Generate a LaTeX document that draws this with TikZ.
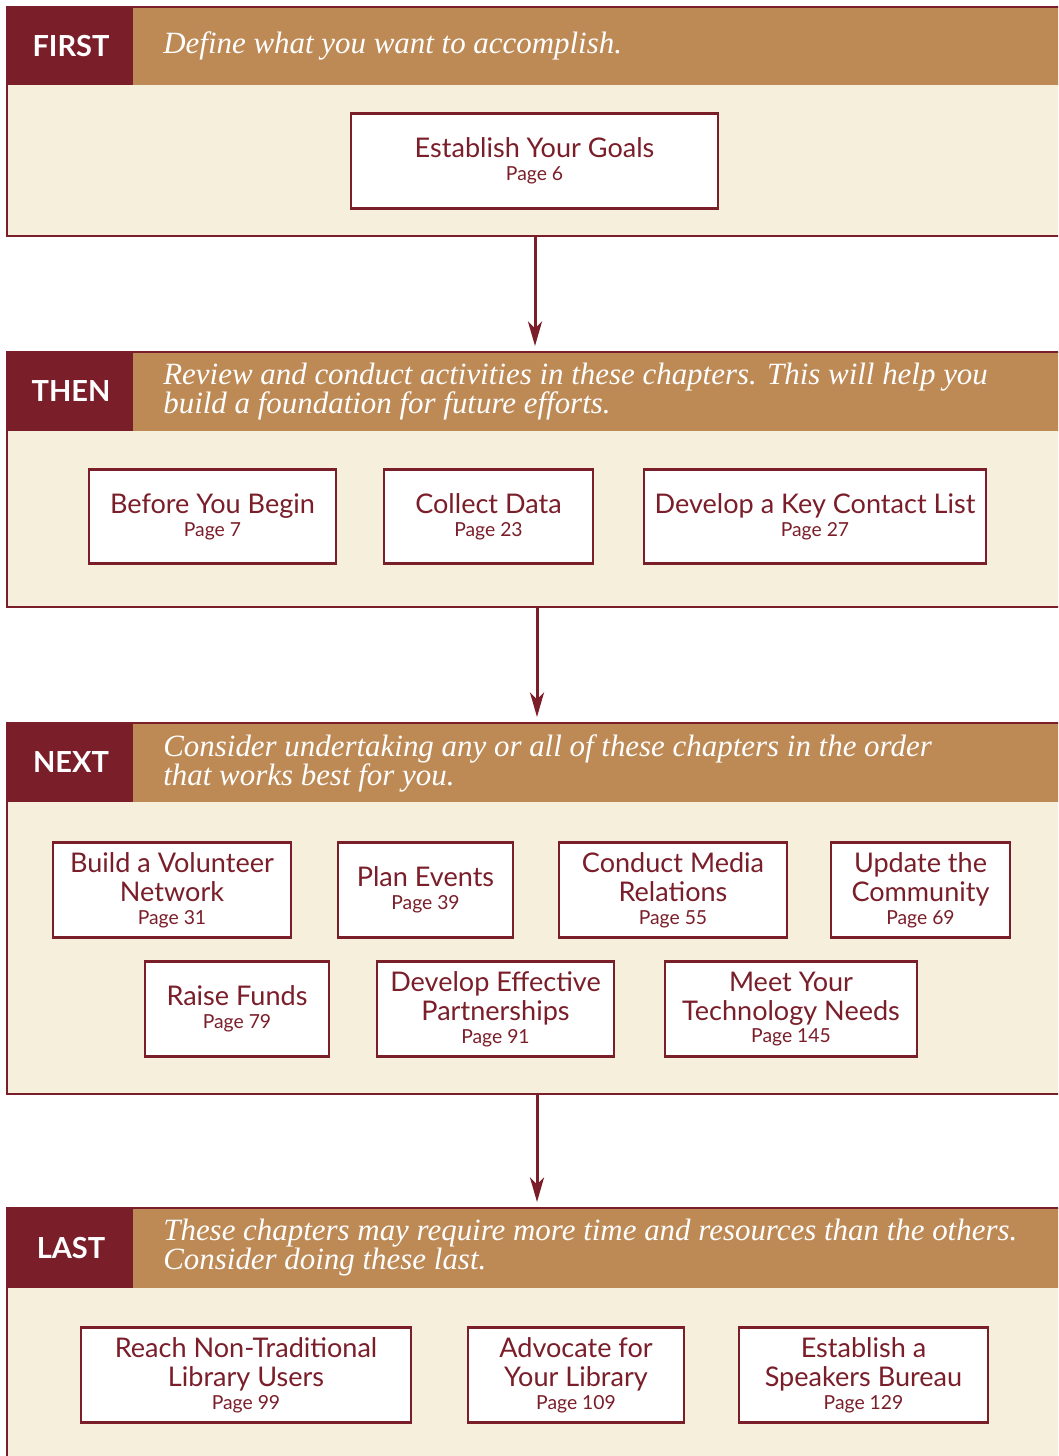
\documentclass[tikz,border=0pt]{standalone}
\usepackage{fontspec}
\setsansfont{Lato}
\newfontfamily\headfont{Liberation Serif}
\usetikzlibrary{arrows.meta}

\definecolor{wine}{HTML}{7A1E2A}
\definecolor{ochre}{HTML}{BD8A56}
\definecolor{cream}{HTML}{F6EFDC}

\newcommand{\pg}[1]{\\[-3.5pt]{\fontsize{11}{12}\selectfont Page #1}}

\begin{document}
\begin{tikzpicture}[x=0.02cm, y=-0.02cm,
    chapter/.style={draw=wine, line width=1.6pt, fill=white, text=wine,
      minimum height=1.89cm, inner sep=0pt, align=center,
      font=\sffamily\fontsize{15.4}{16.5}\selectfont},
    stage/.style={text=white, font=\sffamily\bfseries\fontsize{16.5}{18}\selectfont},
    intro/.style={anchor=west, text=white, align=left, inner sep=0pt,
      font=\headfont\itshape\fontsize{17.6}{16.5}\selectfont},
    flow/.style={draw=wine, line width=1.7pt, -{Stealth[length=14pt, width=8pt, inset=4pt]}}]
  \useasboundingbox (0,0) rectangle (1058,1456);
  \clip (0,0) rectangle (1058,1456);

  % the four panels
  \foreach \tag/\lbl/\top/\mid/\bot in {first/FIRST/7/85/236, then/THEN/352/431/607,
      next/NEXT/723/802/1094, last/LAST/1208/1288/1480}{
    \fill[cream] (7,\top) rectangle (1070,\bot);
    \fill[wine] (7,\top) rectangle (133,\mid);
    \fill[ochre] (133,\top) rectangle (1070,\mid);
    \draw[wine, line width=1.6pt] (7,\top) rectangle (1070,\bot);
    \node[stage] (\tag) at (71,{(\top+\mid)/2}) {\lbl};
  }

  \node[intro] (first-text) at (163,46) {Define what you want to accomplish.};
  \node[intro] (then-text) at (163,392) {Review and conduct activities in these chapters. This will help you\\build a foundation for future efforts.};
  \node[intro] (next-text) at (163,763) {Consider undertaking any or all of these chapters in the order\\that works best for you.};
  \node[intro] (last-text) at (163,1248) {These chapters may require more time and resources than the others.\\Consider doing these last.};

  % chapters
  \node[chapter, minimum width=7.34cm] (goals) at (534.5,161) {Establish Your Goals\pg{6}};

  \node[chapter, minimum width=4.94cm] (begin) at (212.5,516.5) {Before You Begin\pg{7}};
  \node[chapter, minimum width=4.18cm] (data) at (488.5,516.5) {Collect Data\pg{23}};
  \node[chapter, minimum width=6.84cm] (contact) at (815,516.5) {Develop a Key Contact List\pg{27}};

  \node[chapter, minimum width=4.76cm] (volunteer) at (172,890) {Build a Volunteer\\Network\pg{31}};
  \node[chapter, minimum width=3.5cm] (events) at (425.5,890) {Plan Events\pg{39}};
  \node[chapter, minimum width=4.56cm] (media) at (673,890) {Conduct Media\\Relations\pg{55}};
  \node[chapter, minimum width=3.58cm] (update) at (920.5,890) {Update the\\Community\pg{69}};
  \node[chapter, minimum width=3.68cm] (funds) at (237,1009) {Raise Funds\pg{79}};
  \node[chapter, minimum width=4.74cm] (partners) at (495.5,1009) {Develop Effective\\Partnerships\pg{91}};
  \node[chapter, minimum width=5.04cm] (tech) at (791,1009) {Meet Your\\Technology Needs\pg{145}};

  \node[chapter, minimum width=6.6cm] (users) at (246,1375) {Reach Non-Traditional\\Library Users\pg{99}};
  \node[chapter, minimum width=4.32cm] (advocate) at (576,1375) {Advocate for\\Your Library\pg{109}};
  \node[chapter, minimum width=4.98cm] (speakers) at (863.5,1375) {Establish a\\Speakers Bureau\pg{129}};

  % arrows between panels
  \coordinate (first-out) at (535,236); \coordinate (then-in) at (535,346);
  \coordinate (then-out) at (537,607); \coordinate (next-in) at (537,717);
  \coordinate (next-out) at (537,1094); \coordinate (last-in) at (537,1202);
  \draw[flow] (first-out) -- (then-in);
  \draw[flow] (then-out) -- (next-in);
  \draw[flow] (next-out) -- (last-in);
\end{tikzpicture}
\end{document}
